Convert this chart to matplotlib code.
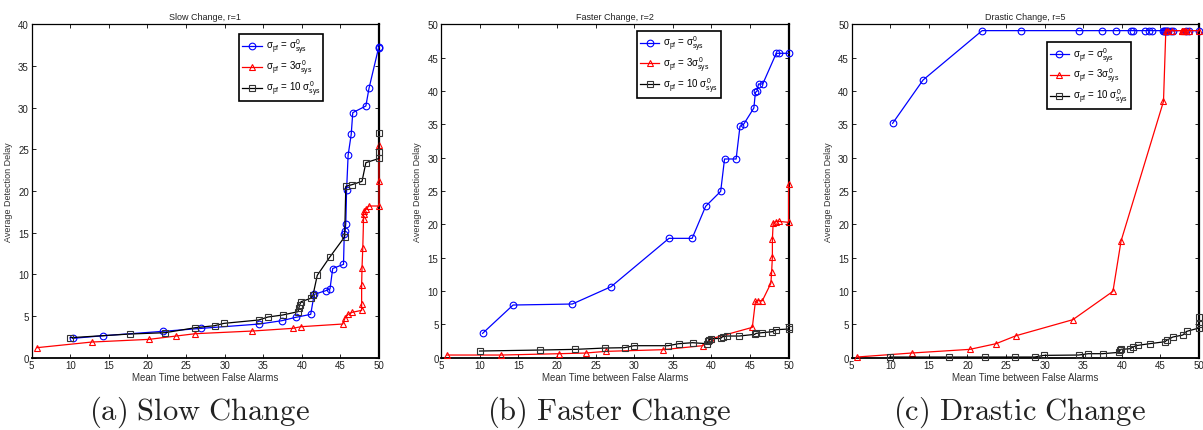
import matplotlib
matplotlib.use("Agg")
import matplotlib.pyplot as plt

# ---------------- data ----------------
titles = ["Slow Change, r=1", "Faster Change, r=2", "Drastic Change, r=5"]
captions = [r"$\mathrm{(a)\ Slow\ Change}$", r"$\mathrm{(b)\ Faster\ Change}$",
            r"$\mathrm{(c)\ Drastic\ Change}$"]
series_labels = [r"$\sigma_{pf}$ = $\sigma^0_{sys}$",
                 r"$\sigma_{pf}$ = 3$\sigma^0_{sys}$",
                 r"$\sigma_{pf}$ = 10 $\sigma^0_{sys}$"]
y_limits = [40, 50, 50]

# Panel (a)
a_blue_x = [10.3, 14.3, 21.95, 27.0, 34.5, 37.4, 39.2, 41.15, 41.6, 43.1, 43.65, 44.0,
            45.4, 45.5, 45.6, 45.7, 45.8, 46.0, 46.4, 46.6, 48.3, 48.7, 49.95, 50.0]
a_blue_y = [2.32, 2.64, 3.16, 3.52, 4.04, 4.44, 4.84, 5.2, 7.6, 8.04, 8.24, 10.7,
            11.2, 14.9, 15.2, 16.1, 20.1, 24.3, 26.8, 29.4, 30.2, 32.3, 37.2, 37.3]
a_red_x = [5.65, 12.8, 20.2, 23.7, 26.2, 33.6, 38.8, 39.9, 45.3, 45.6, 46.0, 46.5,
           47.75, 47.75, 47.75, 47.8, 47.9, 48.0, 48.0, 48.1, 48.35, 48.7, 50.0, 50.0, 50.0]
a_red_y = [1.2, 1.88, 2.2, 2.6, 2.88, 3.2, 3.52, 3.72, 4.04, 4.76, 5.2, 5.44,
           5.68, 6.44, 8.7, 10.8, 13.2, 16.7, 17.2, 17.6, 17.9, 18.2, 18.2, 21.2, 25.5]
a_black_x = [10.0, 17.7, 22.3, 26.2, 28.7, 29.9, 34.4, 35.6, 37.5, 39.5, 39.6, 39.7,
             39.9, 41.15, 41.45, 42.0, 43.6, 45.55, 45.7, 46.5, 47.8, 48.3, 50.0, 50.0, 50.0]
a_black_y = [2.4, 2.84, 3.0, 3.6, 3.84, 4.12, 4.52, 4.88, 5.12, 5.52, 5.92, 6.28,
             6.72, 7.12, 7.52, 9.88, 12.04, 14.5, 20.56, 20.76, 21.16, 23.4, 23.9, 24.7, 26.9]

# Panel (b)
b_blue_x = [10.35, 14.3, 21.97, 27.0, 34.5, 37.5, 39.25, 41.2, 41.7, 43.2, 43.7, 44.2,
            45.5, 45.7, 45.9, 46.1, 46.65, 48.4, 48.8, 50.0]
b_blue_y = [3.65, 7.9, 8.05, 10.65, 17.9, 17.9, 22.7, 24.95, 29.8, 29.8, 34.7, 35.05,
            37.45, 39.8, 39.95, 41.05, 41.05, 45.65, 45.65, 45.65]
b_red_x = [5.7, 12.8, 20.3, 23.7, 26.3, 33.7, 38.85, 40.0, 45.3, 45.7, 46.05, 46.6,
           47.7, 47.8, 47.9, 47.9, 48.0, 48.35, 48.7, 50.0, 50.0]
b_red_y = [0.4, 0.4, 0.6, 0.7, 0.95, 1.2, 1.8, 2.85, 4.55, 8.45, 8.55, 8.55,
           11.15, 12.8, 15.15, 17.8, 20.2, 20.4, 20.45, 20.3, 26.0]
b_black_x = [9.96, 17.8, 22.35, 26.2, 28.75, 29.96, 34.4, 35.75, 37.55, 39.45, 39.6, 39.7,
             40.0, 41.2, 41.45, 42.0, 43.6, 45.6, 45.8, 46.55, 47.9, 48.4, 50.0, 50.0]
b_black_y = [1.0, 1.15, 1.25, 1.45, 1.5, 1.8, 1.8, 2.1, 2.25, 2.1, 2.45, 2.7,
             2.85, 2.9, 3.15, 3.25, 3.25, 3.5, 3.65, 3.75, 3.9, 4.2, 4.3, 4.55]

# Panel (c)
c_blue_x = [10.3, 14.25, 21.9, 27.0, 34.5, 37.4, 39.3, 41.2, 41.4, 43.0, 43.5, 43.9,
            45.4, 45.5, 45.6, 45.7, 45.8, 46.0, 46.4, 46.6, 48.3, 48.7, 50.0]
c_blue_y = [35.15, 41.65, 49.05, 49.05, 49.05, 49.05, 49.05, 49.05, 49.05, 49.05, 49.05, 49.05,
            49.05, 49.05, 49.05, 49.05, 49.05, 49.05, 49.05, 49.05, 49.05, 49.05, 49.05]
c_red_x = [5.65, 12.75, 20.3, 23.7, 26.3, 33.65, 38.85, 39.9, 45.4, 45.7, 46.0, 46.5,
           47.75, 47.8, 47.9, 48.0, 48.1, 48.35, 48.7, 50.0]
c_red_y = [0.1, 0.7, 1.25, 2.1, 3.3, 5.7, 9.95, 17.5, 38.45, 49.05, 49.05, 49.05,
           49.05, 49.05, 49.05, 49.05, 49.05, 49.05, 49.05, 49.05]
c_black_x = [9.93, 17.67, 22.3, 26.2, 28.7, 29.9, 34.4, 35.65, 37.5, 39.6, 39.75, 39.9,
             41.1, 41.5, 42.05, 43.6, 45.6, 45.8, 46.6, 47.9, 48.4, 50.0, 50.0, 50.0]
c_black_y = [0.1, 0.1, 0.1, 0.1, 0.1, 0.35, 0.4, 0.6, 0.6, 0.8, 1.1, 1.25,
             1.35, 1.65, 1.85, 2.1, 2.4, 2.6, 3.1, 3.4, 3.95, 4.45, 5.05, 6.05]

panels = [
    [(a_blue_x, a_blue_y), (a_red_x, a_red_y), (a_black_x, a_black_y)],
    [(b_blue_x, b_blue_y), (b_red_x, b_red_y), (b_black_x, b_black_y)],
    [(c_blue_x, c_blue_y), (c_red_x, c_red_y), (c_black_x, c_black_y)],
]

# ---------------- style ----------------
plt.rcParams['font.family'] = ['Liberation Sans', 'DejaVu Sans']
plt.rcParams['mathtext.fontset'] = 'custom'
plt.rcParams['mathtext.rm'] = 'Liberation Sans'
plt.rcParams['mathtext.it'] = 'Liberation Sans'

colors = ['#0000ff', '#ff0000', '#000000']
markers = ['o', '^', 's']
msizes = [4.8, 4.8, 3.8]

W, H = 1203, 431
fig = plt.figure(figsize=(W / 100, H / 100), dpi=100)

ax_lefts = [31.7, 441.3, 851.7]
ax_w = 347.3
ax_top, ax_bot = 25.3, 358.7
legend_boxes = [(239.3, 35.0), (637.0, 31.7), (1046.7, 43.3)]

for i in range(3):
    left = ax_lefts[i]
    ax = fig.add_axes([left / W, 1 - ax_bot / H, ax_w / W, (ax_bot - ax_top) / H])
    for j, (xs, ys) in enumerate(panels[i]):
        ax.plot(xs, ys, color=colors[j], marker=markers[j], markersize=msizes[j],
                markerfacecolor='none', markeredgecolor=colors[j] if j < 2 else '#333333',
                markeredgewidth=0.8, linewidth=0.9, label=series_labels[j],
                clip_on=False, zorder=3)
    ax.set_xlim(5, 50)
    ax.set_ylim(0, y_limits[i])
    ax.set_xticks(range(5, 51, 5))
    ax.set_yticks(range(0, y_limits[i] + 1, 5))
    ax.tick_params(direction='in', top=True, right=True, labelsize=7, length=3,
                   width=0.7, pad=2, colors='#222222')
    for s in ax.spines.values():
        s.set_linewidth(0.9)
    ax.spines['right'].set_linewidth(1.6)
    ax.spines['bottom'].set_linewidth(1.3)
    ax.set_title(titles[i], fontsize=6.5, pad=4, color='#222222')
    ax.set_xlabel("Mean Time between False Alarms", fontsize=7, labelpad=1, color='#333333')
    ax.set_ylabel("Average Detection Delay", fontsize=6.5, labelpad=4, color='#333333')
    lx, ly = legend_boxes[i]
    leg = ax.legend(loc='upper left', bbox_to_anchor=((lx - left) / ax_w,
                    (ax_bot - ly) / (ax_bot - ax_top)),
                    fontsize=7, fancybox=False, framealpha=1, edgecolor='black',
                    borderpad=0.3, labelspacing=0.15, handlelength=2.0,
                    handletextpad=0.4, borderaxespad=0)
    leg.get_frame().set_linewidth(1.2)
    leg.set_zorder(5)
    cx = left + ax_w / 2 - 6
    fig.text(cx / W, 1 - 412 / H, captions[i], ha='center', va='center',
             fontsize=22, math_fontfamily='cm', color='#222222')

fig.savefig("out.png", dpi=100)
